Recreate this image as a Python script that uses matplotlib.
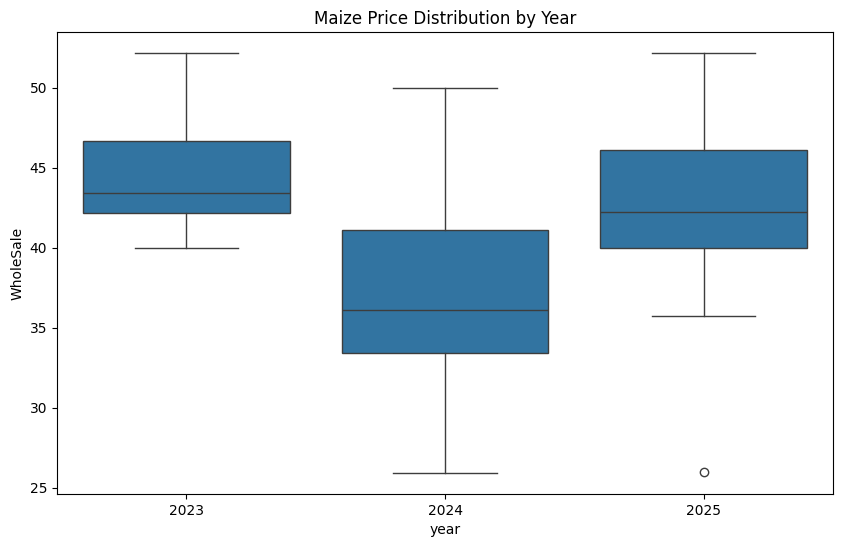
import matplotlib
matplotlib.use("Agg")
import matplotlib.pyplot as plt

# box stats
years = ["2023", "2024", "2025"]
whislo = [40.0, 25.9, 35.75]
q1 = [42.15, 33.4, 40.0]
med = [43.4, 36.1, 42.25]
q3 = [46.7, 41.1, 46.1]
whishi = [52.2, 50.0, 52.2]
fliers = [[], [], [26.0]]

stats = []
for i in range(len(years)):
    stats.append(dict(label=years[i], whislo=whislo[i], q1=q1[i], med=med[i],
                      q3=q3[i], whishi=whishi[i], fliers=fliers[i]))

fig = plt.figure(figsize=(8.41, 5.47), dpi=100)
ax = fig.add_axes([0.0678, 0.0969, 0.9227, 0.8446])

line_col = "#3d3d3d"
lw = 1.0
ax.bxp(stats, positions=range(len(years)), widths=0.8, patch_artist=True,
       boxprops=dict(facecolor="#3274a1", edgecolor=line_col, linewidth=lw),
       medianprops=dict(color=line_col, linewidth=lw),
       whiskerprops=dict(color=line_col, linewidth=lw),
       capprops=dict(color=line_col, linewidth=lw),
       flierprops=dict(marker="o", markerfacecolor="none", markeredgecolor=line_col,
                       markersize=6, linewidth=0),
       capwidths=0.4)

ax.set_xlim(-0.5, 2.5)
ax.set_xticks(range(len(years)))
ax.set_xticklabels(years)
ax.set_ylim(24.6, 53.5)
ax.set_yticks([25, 30, 35, 40, 45, 50])
ax.set_xlabel("year")
ax.set_ylabel("WholeSale")
ax.set_title("Maize Price Distribution by Year")

fig.savefig("out.png", dpi=100)
